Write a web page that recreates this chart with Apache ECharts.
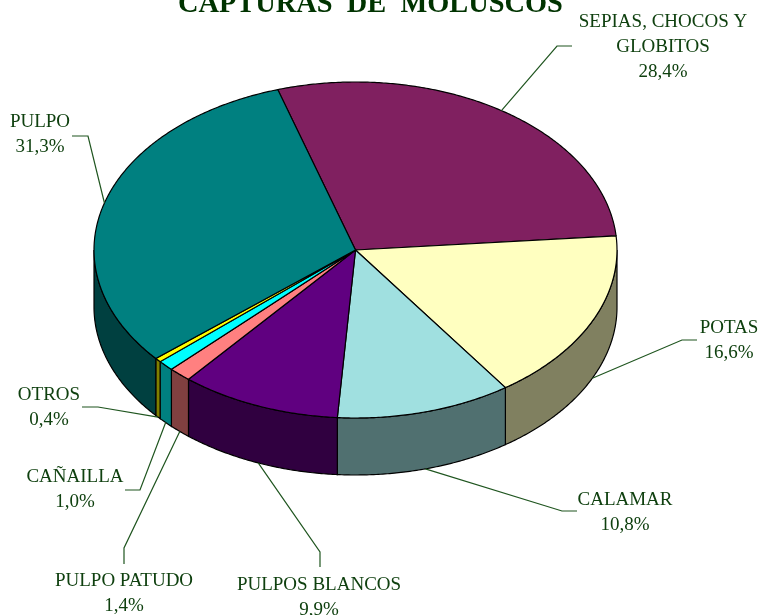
<!DOCTYPE html>
<html>
<head>
<meta charset="utf-8">
<title>Capturas de moluscos</title>
<script src="https://cdn.jsdelivr.net/npm/echarts@6/dist/echarts.min.js"></script>
<style>
  html, body { margin: 0; padding: 0; background: #fff; }
  #chart { width: 762px; height: 615px; }
</style>
</head>
<body>
<div id="chart"></div>
<script>
const categories = ['SEPIAS, CHOCOS Y\nGLOBITOS', 'POTAS', 'CALAMAR', 'PULPOS BLANCOS', 'PULPO PATUDO', 'CAÑAILLA', 'OTROS', 'PULPO']
const shares = [28.4, 16.6, 10.8, 9.9, 1.4, 1.0, 0.4, 31.3]

const topColors = ['#802060', '#FFFFC0', '#A0E0E0', '#600080', '#FF8080', '#00FFFF', '#FFFF00', '#008080']
const sideColors = ['#401030', '#808060', '#507070', '#300040', '#804040', '#008080', '#808000', '#004040']

// label centre, then the elbow and the end of the leader line
const labelLayout = [
  { x: 663, y: 47, elbow: [557, 46], end: [572, 46] },
  { x: 729, y: 341, elbow: [682, 340], end: [697, 340] },
  { x: 625, y: 513, elbow: [562, 511], end: [577, 511] },
  { x: 319, y: 598, elbow: [320, 552], end: [320, 567] },
  { x: 124, y: 594, elbow: [124, 548], end: [124, 564] },
  { x: 75, y: 490, elbow: [140, 490], end: [125, 490] },
  { x: 49, y: 408, elbow: [98, 407], end: [82, 407] },
  { x: 40, y: 135, elbow: [88, 136], end: [72, 136] }
]

const pie = { cx: 355.5, cy: 250, rx: 261.5, ry: 168, depth: 57, startAngle: -17.3 }
const textColor = '#0F400F'
const lineColor = '#1F551F'
const labelFont = '19px "Liberation Serif"'

const total = shares.reduce((a, b) => a + b, 0)
const angles = []
let acc = pie.startAngle
for (const v of shares) {
  const sweep = v / total * 360
  angles.push({ from: acc, to: acc + sweep, mid: acc + sweep / 2 })
  acc += sweep
}

// angle in degrees clockwise from the top of the ellipse
function rimPoint(angle, drop) {
  const r = angle * Math.PI / 180
  return [pie.cx + pie.rx * Math.sin(r), pie.cy - pie.ry * Math.cos(r) + (drop || 0)]
}

function arcPoints(from, to, drop) {
  const points = []
  const steps = Math.max(2, Math.ceil((to - from) * 2))
  for (let i = 0; i <= steps; i++) {
    points.push(rimPoint(from + (to - from) * i / steps, drop))
  }
  return points
}

function isFront(angle) {
  const a = ((angle % 360) + 360) % 360
  return a > 90 && a < 270
}

function renderSide(params, api) {
  const i = api.value(0)
  const from = Math.max(angles[i].from, 90)
  const to = Math.min(angles[i].to, 270)
  if (to <= from) return null
  const points = arcPoints(from, to, 0).concat(arcPoints(from, to, pie.depth).reverse())
  return {
    type: 'polygon',
    shape: { points },
    style: { fill: sideColors[i], stroke: '#000', lineWidth: 1.2 }
  }
}

function renderTop(params, api) {
  const i = api.value(0)
  const points = [[pie.cx, pie.cy]].concat(arcPoints(angles[i].from, angles[i].to, 0))
  return {
    type: 'polygon',
    shape: { points },
    style: { fill: topColors[i], stroke: '#000', lineWidth: 1.2 }
  }
}

function renderLabel(params, api) {
  const i = api.value(0)
  const layout = labelLayout[i]
  const start = rimPoint(angles[i].mid, isFront(angles[i].mid) ? pie.depth : 0)
  return {
    type: 'group',
    children: [
      {
        type: 'polyline',
        shape: { points: [start, layout.elbow, layout.end] },
        style: { fill: 'none', stroke: lineColor, lineWidth: 1.2 }
      },
      {
        type: 'text',
        style: {
          x: layout.x,
          y: layout.y,
          text: categories[i] + '\n' + api.value(1).toFixed(1).replace('.', ',') + '%',
          align: 'center',
          verticalAlign: 'middle',
          font: labelFont,
          lineHeight: 25,
          fill: textColor
        }
      }
    ]
  }
}

const seriesData = shares.map((v, i) => [i, v])

const chart = echarts.init(document.getElementById('chart'), null, { renderer: 'canvas' })
chart.setOption({
  animation: false,
  backgroundColor: '#fff',
  title: {
    text: 'CAPTURAS  DE  MOLUSCOS',
    left: 178,
    top: -9,
    padding: 0,
    textStyle: {
      fontFamily: 'Liberation Serif',
      fontSize: 28.4,
      fontWeight: 'bold',
      color: '#003300'
    }
  },
  series: [
    { type: 'custom', coordinateSystem: 'none', silent: true, z: 1, renderItem: renderSide, data: seriesData },
    { type: 'custom', coordinateSystem: 'none', silent: true, z: 2, renderItem: renderTop, data: seriesData },
    { type: 'custom', coordinateSystem: 'none', silent: true, z: 3, renderItem: renderLabel, data: seriesData }
  ]
})
</script>
</body>
</html>
